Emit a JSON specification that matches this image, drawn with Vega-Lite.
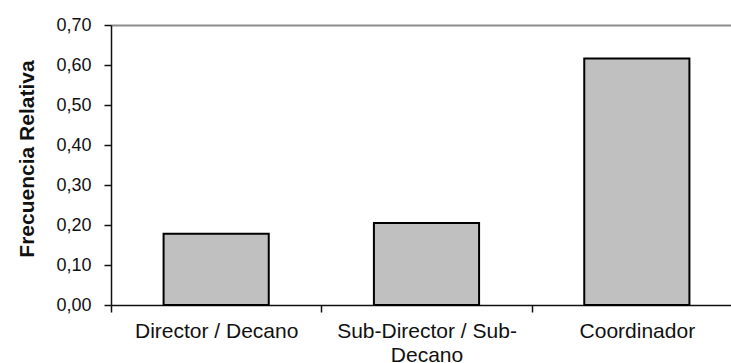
{
  "$schema": "https://vega.github.io/schema/vega-lite/v6.json",
  "width": 620,
  "height": 280,
  "autosize": {"type": "none"},
  "padding": {"left": 111, "top": 25, "right": 0, "bottom": 58},
  "background": "white",
  "config": {"view": {"stroke": null}, "font": "Liberation Sans"},
  "data": {
    "values": [
      {"cargo": "Director / Decano", "frecuencia": 0.178},
      {"cargo": "Sub-Director / Sub-Decano", "frecuencia": 0.205},
      {"cargo": "Coordinador", "frecuencia": 0.616}
    ]
  },
  "layer": [
    {
      "mark": {"type": "bar", "fill": "#c0c0c0", "stroke": "#000000", "strokeWidth": 2},
      "encoding": {
        "x": {
          "field": "cargo",
          "type": "nominal",
          "sort": null,
          "scale": {"range": [0, 631], "paddingInner": 0.5, "paddingOuter": 0.25},
          "axis": {
            "title": null,
            "orient": "bottom",
            "bandPosition": 0,
            "tickOffset": -52.6,
            "labelOffset": 52.6,
            "labelAngle": 0,
            "labelExpr": "datum.value == 'Sub-Director / Sub-Decano' ? ['Sub-Director / Sub-', 'Decano'] : datum.label",
            "labelFont": "Liberation Sans",
            "labelFontSize": 21,
            "labelColor": "#111111",
            "labelPadding": 8,
            "labelLineHeight": 24,
            "labelBaseline": "top",
            "labelOverlap": false,
            "labelBound": false,
            "labelFlush": false,
            "tickSize": 7,
            "tickColor": "#111111",
            "tickWidth": 1.5,
            "domainColor": "#111111",
            "domainWidth": 1.5,
            "grid": false
          }
        },
        "y": {
          "field": "frecuencia",
          "type": "quantitative",
          "scale": {"domain": [0, 0.7], "nice": false, "zero": true},
          "axis": {
            "title": "Frecuencia Relativa",
            "titleFont": "Liberation Sans",
            "titleFontSize": 21,
            "titleFontWeight": "bold",
            "titleColor": "#111111",
            "titleX": -78,
            "titleY": 133.5,
            "titleBaseline": "alphabetic",
            "values": [0, 0.1, 0.2, 0.3, 0.4, 0.5, 0.6, 0.7],
            "labelExpr": "replace(format(datum.value, '.2f'), '.', ',')",
            "labelFont": "Liberation Sans",
            "labelFontSize": 18,
            "labelColor": "#111111",
            "labelPadding": 13,
            "labelBaseline": "middle",
            "tickSize": 7,
            "tickColor": "#111111",
            "tickWidth": 1.5,
            "domainColor": "#111111",
            "domainWidth": 1.5,
            "grid": false
          }
        }
      }
    },
    {
      "mark": {"type": "bar", "opacity": 0},
      "encoding": {
        "x": {
          "field": "cargo",
          "type": "nominal",
          "sort": null,
          "axis": {
            "orient": "top",
            "labels": false,
            "ticks": false,
            "title": null,
            "domainColor": "#8c8c8c",
            "domainWidth": 2,
            "grid": false
          }
        }
      }
    }
  ],
  "resolve": {"axis": {"x": "independent"}}
}
